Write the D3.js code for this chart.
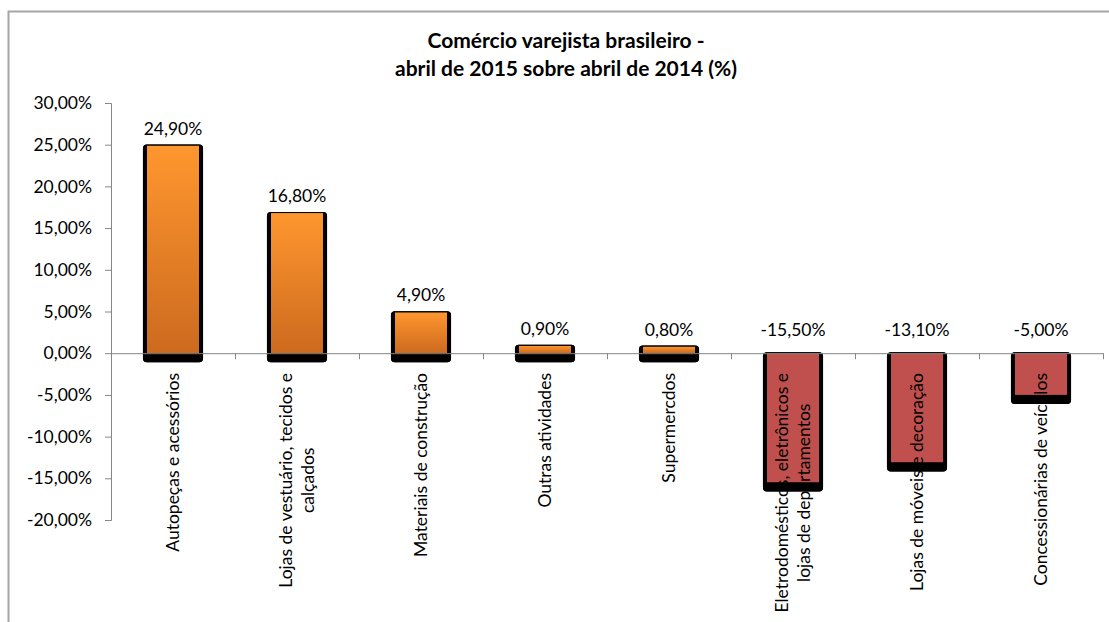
<!DOCTYPE html>
<html>
<head>
<meta charset="utf-8">
<script src="https://cdn.jsdelivr.net/npm/d3@7"></script>
<style>
  body { margin: 0; background: #fff; }
  svg { display: block; font-family: Lato, "Liberation Sans", sans-serif; }
</style>
</head>
<body>
<div id="graphique"></div>
<script>
// ===============================
// Données
// ===============================
const categories = [
    "Autopeças e acessórios",
    "Lojas de vestuário, tecidos e\ncalçados",
    "Materiais de construção",
    "Outras atividades",
    "Supermercdos",
    "Eletrodomésticos, eletrônicos e\nlojas de departamentos",
    "Lojas de móveis e decoração",
    "Concessionárias de veículos"
];
const valeurs = [24.9, 16.8, 4.9, 0.9, 0.8, -15.5, -13.1, -5.0];
const ticksY = [-20, -15, -10, -5, 0, 5, 10, 15, 20, 25, 30];
const titre = ["Comércio varejista brasileiro -", "abril de 2015 sobre abril de 2014 (%)"];

const largeur = 1109, hauteur = 622;
const fmt = v => d3.format(".2f")(v).replace(".", ",").replace("\u2212", "-") + "%";

const svg = d3.select("#graphique").append("svg")
    .attr("width", largeur).attr("height", hauteur);

// dégradé orange des barres positives
const defs = svg.append("defs");
const grad = defs.append("linearGradient").attr("id", "orange")
    .attr("x1", 0).attr("y1", 0).attr("x2", 0).attr("y2", 1);
grad.append("stop").attr("offset", "0%").attr("stop-color", "#ff962e");
grad.append("stop").attr("offset", "100%").attr("stop-color", "#cc6a1f");

// cadre du graphique
svg.append("rect")
    .attr("x", 8.5).attr("y", 11.5).attr("width", 1110).attr("height", 620)
    .attr("fill", "none").attr("stroke", "#a6a6a6").attr("stroke-width", 2);

// ===============================
// Echelles
// ===============================
const x = d3.scaleBand().domain(categories).range([111, 1103]).padding(0);
const y = d3.scaleLinear().domain([-20, 30]).range([520, 103]);
const largeurBarre = x.bandwidth() * 0.42;

// titre
svg.append("g").selectAll("text").data(titre).join("text")
    .attr("x", 566).attr("y", (d, i) => 48 + i * 28)
    .attr("text-anchor", "middle")
    .attr("font-size", "21px").attr("font-weight", "bold")
    .attr("fill", "#000")
    .text(d => d);

// axe Y
const axeY = svg.append("g").attr("transform", "translate(111,0)")
    .call(d3.axisLeft(y).tickValues(ticksY).tickSize(6).tickPadding(13).tickFormat(fmt));
axeY.select(".domain").attr("stroke", "#868686");
axeY.selectAll(".tick line").attr("stroke", "#868686");
axeY.selectAll(".tick text").attr("font-size", "17.5px").attr("fill", "#000")
    .attr("font-family", "Lato, sans-serif");

// ===============================
// Barres
// ===============================
const donnees = categories.map((c, i) => ({ cat: c, val: valeurs[i] }));

function boite(d) {
    const x0 = x(d.cat) + (x.bandwidth() - largeurBarre) / 2;
    const y0 = y(Math.max(0, d.val));
    const h = Math.abs(y(d.val) - y(0));
    return { x0, y0, h };
}

const barres = svg.append("g");
// ombre noire
barres.selectAll("rect.ombre").data(donnees).join("rect")
    .attr("class", "ombre")
    .attr("x", d => boite(d).x0 - 4)
    .attr("y", d => boite(d).y0 - 1)
    .attr("width", largeurBarre + 8)
    .attr("height", d => boite(d).h + 10)
    .attr("rx", 4)
    .attr("fill", "#000");
// remplissage
barres.selectAll("rect.barre").data(donnees).join("rect")
    .attr("class", "barre")
    .attr("x", d => boite(d).x0)
    .attr("y", d => boite(d).y0)
    .attr("width", largeurBarre)
    .attr("height", d => boite(d).h)
    .attr("fill", d => d.val >= 0 ? "url(#orange)" : "#c0504d");

// étiquettes des catégories (tournées, lignes centrées entre elles)
const etiquettes = svg.append("g");
donnees.forEach(d => {
    const lignes = d.cat.split("\n");
    const g = etiquettes.append("g")
        .attr("transform", `translate(${x(d.cat) + x.bandwidth() / 2},373) rotate(-90)`);
    const textes = lignes.map((l, i) => g.append("text")
        .attr("y", (i - (lignes.length - 1) / 2) * 22)
        .attr("dy", "0.35em")
        .attr("text-anchor", "middle")
        .attr("font-size", "17.5px")
        .attr("fill", "#000")
        .text(l));
    const maxLong = d3.max(textes, t => t.node().getComputedTextLength());
    textes.forEach(t => t.attr("x", -maxLong / 2));
});

// partie noire de l'ombre par-dessus les étiquettes
svg.append("g").selectAll("path").data(donnees).join("path")
    .attr("fill", "#000").attr("fill-rule", "evenodd")
    .attr("d", d => {
        const b = boite(d);
        const ox = b.x0 - 4, oy = b.y0 - 1, ow = largeurBarre + 8, oh = b.h + 10, r = 4;
        const ext = `M${ox + r},${oy}H${ox + ow - r}Q${ox + ow},${oy} ${ox + ow},${oy + r}` +
            `V${oy + oh - r}Q${ox + ow},${oy + oh} ${ox + ow - r},${oy + oh}` +
            `H${ox + r}Q${ox},${oy + oh} ${ox},${oy + oh - r}V${oy + r}Q${ox},${oy} ${ox + r},${oy}Z`;
        const int = `M${b.x0},${b.y0}H${b.x0 + largeurBarre}V${b.y0 + b.h}H${b.x0}Z`;
        return ext + int;
    });

// ligne du zéro et graduations des catégories
const axeX = svg.append("g");
axeX.append("line")
    .attr("x1", 111).attr("x2", 1103).attr("y1", y(0) + 0.5).attr("y2", y(0) + 0.5)
    .attr("stroke", "#868686");
axeX.selectAll("line.tick").data(categories).join("line")
    .attr("class", "tick")
    .attr("x1", d => x(d) + x.bandwidth() + 0.5).attr("x2", d => x(d) + x.bandwidth() + 0.5)
    .attr("y1", y(0)).attr("y2", y(0) + 6)
    .attr("stroke", "#868686");

// valeurs au-dessus des barres
svg.append("g").selectAll("text").data(donnees).join("text")
    .attr("x", d => x(d.cat) + x.bandwidth() / 2)
    .attr("y", d => d.val >= 0 ? y(d.val) - 11 : y(0) - 17)
    .attr("text-anchor", "middle")
    .attr("font-size", "17.5px")
    .attr("fill", "#000")
    .text(d => fmt(d.val));
</script>
</body>
</html>
